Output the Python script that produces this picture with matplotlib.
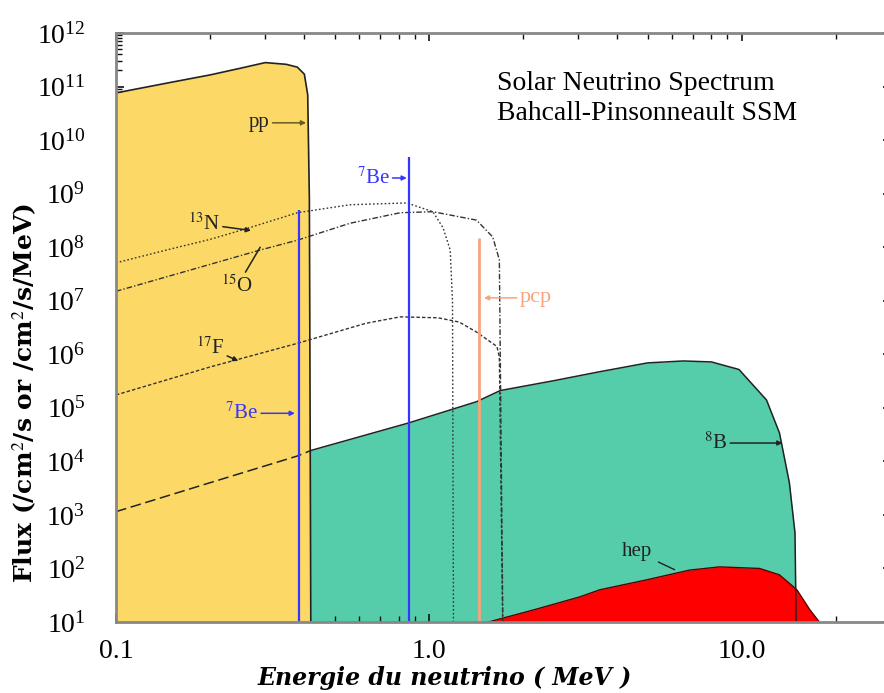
import matplotlib
matplotlib.use('Agg')
import matplotlib.pyplot as plt
import numpy as np
from matplotlib.ticker import LogLocator, NullFormatter, FixedLocator, FixedFormatter

plt.rcParams['font.family'] = ['Liberation Serif', 'DejaVu Serif']
plt.rcParams['mathtext.fontset'] = 'stix'

# pp continuum (MeV, flux per cm2/s/MeV)
pp_E = [0.1, 0.15, 0.2, 0.25, 0.3, 0.35, 0.38, 0.40, 0.41, 0.415, 0.42]
pp_flux = [7.6e10, 1.2e11, 1.65e11, 2.2e11, 2.8e11, 2.6e11, 2.3e11, 1.7e11, 7e10, 8e8, 1.0]

# 8B continuum
b8_E = [0.1, 0.2, 0.38, 0.42, 0.86, 1.42, 1.69, 2.5, 3.5, 5.0, 6.5, 8.0, 9.8,
        12.0, 13.2, 14.2, 14.8, 15.0]
b8_flux = [1.15e3, 4.0e3, 1.26e4, 1.6e4, 5.2e4, 1.3e5, 2.1e5, 3.2e5, 4.7e5, 6.9e5,
           7.5e5, 7.2e5, 5.2e5, 1.4e5, 3.4e4, 4e3, 460, 1.0]

# hep continuum
hep_E = [1.45, 2.16, 3.04, 3.52, 4.95, 6.8, 8.5, 11.4, 13.2, 15.0, 16.5, 17.7, 18.0]
hep_flux = [9, 16.8, 29.5, 40, 61, 93, 107, 100, 76, 40, 17, 10, 1]

# CNO continua
n13_E = [0.1, 0.15, 0.2, 0.26, 0.38, 0.56, 0.85, 1.03, 1.11, 1.17, 1.19, 1.2]
n13_flux = [5.1e7, 9.3e7, 1.4e8, 2.2e8, 4.4e8, 6.2e8, 6.7e8, 4.6e8, 2.3e8, 8.9e7, 1e7, 1.0]
o15_E = [0.1, 0.29, 0.38, 0.56, 0.81, 1.03, 1.42, 1.6, 1.68, 1.73]
o15_flux = [1.5e7, 8.9e7, 1.35e8, 2.8e8, 4.4e8, 4.6e8, 3.2e8, 1.55e8, 5.8e7, 1.0]
f17_E = [0.1, 0.2, 0.38, 0.63, 0.81, 1.07, 1.25, 1.42, 1.65, 1.68, 1.73]
f17_flux = [1.74e5, 5.8e5, 1.6e6, 3.8e6, 5e6, 4.8e6, 4e6, 2.6e6, 1.4e6, 8.9e5, 1.0]

# lines (per cm2/s)
be7_E = [0.384, 0.862]
be7_flux = [5e8, 4.8e9]
pcp_E = 1.442
pcp_flux = 1.5e8

yellow = '#FCD966'
green = '#55CDAA'
red = '#FF0000'
blue = '#3535FF'
orange = '#F9A47C'

fig = plt.figure(figsize=(8.84, 6.93), dpi=100)
ax = fig.add_axes([116 / 884, 1 - 622 / 693, 775 / 884, 589 / 693])
ax.set_xscale('log')
ax.set_yscale('log')

# filled spectra
ax.fill_between(b8_E, b8_flux, 1, color=green, lw=0, zorder=1)
ax.fill_between(hep_E, hep_flux, 1, color=red, lw=0, zorder=2)
ax.plot(hep_E, hep_flux, color='#5a0000', lw=1, zorder=2.5)
ax.fill_between(pp_E, pp_flux, 1, color=yellow, lw=0, zorder=3)
ax.plot(pp_E, pp_flux, color='#222222', lw=1.2, zorder=3.5)

# 8B outline: dashed under pp, solid elsewhere
b8_E_arr = np.array(b8_E)
b8_f_arr = np.array(b8_flux)
low = b8_E_arr <= 0.42
high = b8_E_arr >= 0.42
ax.plot(b8_E_arr[low], b8_f_arr[low], color='#222222', lw=1.1, dashes=(7, 3), zorder=4)
ax.plot(b8_E_arr[high], b8_f_arr[high], color='#222222', lw=1.1, zorder=4)

# CNO curves
ax.plot(n13_E, n13_flux, color='#333333', lw=1.0, dashes=(1.2, 1.6), zorder=5)
ax.plot(o15_E, o15_flux, color='#333333', lw=1.0, dashes=(4, 1.5, 1, 1.5), zorder=5)
ax.plot(f17_E, f17_flux, color='#333333', lw=1.0, dashes=(2.5, 1.5), zorder=5)

# line sources
ax.vlines(be7_E, 1, be7_flux, color=blue, lw=1.6, zorder=6)
ax.vlines(pcp_E, 1, pcp_flux, color=orange, lw=2.0, zorder=6)

ax.set_xlim(0.1, 30)
ax.set_ylim(10, 1e12)

ax.xaxis.set_major_locator(FixedLocator([0.1, 1.0, 10.0]))
ax.xaxis.set_major_formatter(FixedFormatter(['0.1', '1.0', '10.0']))
ax.xaxis.set_minor_locator(LogLocator(base=10, subs=np.arange(2, 10), numticks=50))
ax.xaxis.set_minor_formatter(NullFormatter())
ax.yaxis.set_major_locator(LogLocator(base=10, numticks=30))
ax.yaxis.set_minor_locator(LogLocator(base=10, subs=np.arange(2, 10), numticks=100))
ax.yaxis.set_minor_formatter(NullFormatter())
ax.tick_params(which='both', direction='in', top=True, right=True, color='#111111')
ax.tick_params(which='major', length=6, width=1.2, labelsize=20)
ax.tick_params(which='minor', length=4, width=1)
ax.tick_params(axis='y', which='major', pad=22)
ax.tick_params(axis='x', which='major', pad=12)
for s in ax.spines.values():
    s.set_color('#888888')
    s.set_linewidth(2)
    s.set_zorder(10)

ax.set_xlabel('Energie du neutrino ( MeV )', fontsize=17, fontstyle='italic',
              fontweight='bold', family=['DejaVu Serif'], va='center')
ax.xaxis.set_label_coords((445 - 116) / 775, (622 - 678) / 589)
ax.set_ylabel('Flux (/cm$^2$/s or /cm$^2$/s/MeV)', fontsize=18, fontweight='bold',
              family=['DejaVu Serif'], va='center')
ax.yaxis.set_label_coords((25 - 116) / 775, (622 - 393) / 589)

# labels and arrows
arrow = dict(arrowstyle='-|>', lw=1.1, mutation_scale=7, shrinkA=0, shrinkB=0)
ax.annotate('pp', xy=(0.405, 2.1e10), xytext=(0.31, 2.1e10), fontsize=15,
            ha='right', va='center', color='#222222', zorder=8,
            arrowprops=dict(arrow, color='#6b5a1e'))
ax.annotate('$^{7}$Be', xy=(0.85, 1.96e9), xytext=(0.75, 1.96e9), fontsize=15,
            ha='right', va='center', color=blue, zorder=8,
            arrowprops=dict(arrow, color=blue))
ax.annotate('$^{7}$Be', xy=(0.373, 7.9e4), xytext=(0.285, 7.9e4), fontsize=15,
            ha='right', va='center', color=blue, zorder=8,
            arrowprops=dict(arrow, color=blue))
ax.annotate('$^{13}$N', xy=(0.27, 2.05e8), xytext=(0.215, 2.7e8), fontsize=15,
            ha='right', va='center', color='#222222', zorder=8,
            arrowprops=dict(arrow, color='#222222'))
ax.annotate('$^{15}$O', xy=(0.289, 1.0e8), xytext=(0.275, 1.9e7), fontsize=15,
            ha='right', va='center', color='#222222', zorder=8,
            arrowprops=dict(arrowstyle='-', lw=1.1, color='#222222',
                            shrinkA=0, shrinkB=0))
ax.annotate('$^{17}$F', xy=(0.246, 7.5e5), xytext=(0.222, 1.3e6), fontsize=15,
            ha='right', va='center', color='#222222', zorder=8,
            arrowprops=dict(arrow, color='#222222'))
ax.annotate('pcp', xy=(1.5, 1.13e7), xytext=(1.95, 1.13e7), fontsize=16,
            ha='left', va='center', color=orange, zorder=8,
            arrowprops=dict(arrow, color=orange))
ax.annotate('$^{8}$B', xy=(13.5, 2.2e4), xytext=(9.0, 2.2e4), fontsize=15,
            ha='right', va='center', color='#222222', zorder=8,
            arrowprops=dict(arrow, color='#222222'))
ax.annotate('hep', xy=(6.1, 95), xytext=(5.16, 204), fontsize=15,
            ha='right', va='center', color='#222222', zorder=8,
            arrowprops=dict(arrowstyle='-', lw=1, color='#222222',
                            shrinkA=3, shrinkB=0))

fig.text(497 / 884, 1 - 84 / 693, 'Solar Neutrino Spectrum', fontsize=20,
         ha='left', va='center')
fig.text(497 / 884, 1 - 113 / 693, 'Bahcall-Pinsonneault SSM', fontsize=20,
         ha='left', va='center')

fig.savefig('out.png', dpi=100)
